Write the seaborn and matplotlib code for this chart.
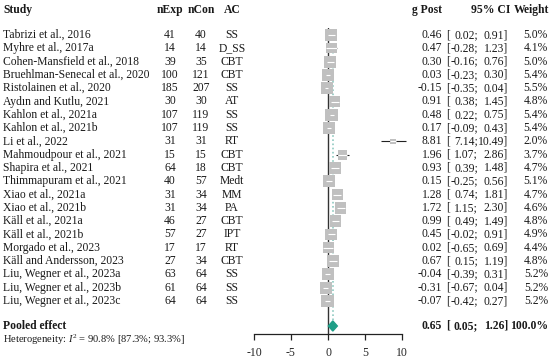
import numpy as np
import pandas as pd
import matplotlib.pyplot as plt
import matplotlib.transforms as mtransforms
import seaborn as sns

studies = ["Tabrizi et al., 2016", "Myhre et al., 2017a", "Cohen-Mansfield et al., 2018",
           "Bruehlman-Senecal et al., 2020", "Ristolainen et al., 2020", "Aydın and Kutlu, 2021",
           "Kahlon et al., 2021a", "Kahlon et al., 2021b", "Li et al., 2022",
           "Mahmoudpour et al., 2021", "Shapira et al., 2021", "Thimmapuram et al., 2021",
           "Xiao et al., 2021a", "Xiao et al., 2021b", "Käll et al., 2021a", "Käll et al., 2021b",
           "Morgado et al., 2023", "Käll and Andersson, 2023", "Liu, Wegner et al., 2023a",
           "Liu, Wegner et al., 2023b", "Liu, Wegner et al., 2023c"]
n_exp = [41, 14, 39, 100, 185, 30, 107, 107, 31, 15, 64, 40, 31, 31, 46, 57, 17, 27, 63, 61, 64]
n_con = [40, 14, 35, 121, 207, 30, 119, 119, 31, 15, 18, 57, 34, 34, 27, 27, 17, 34, 64, 64, 64]
ac = ["SS", "D_SS", "CBT", "CBT", "SS", "AT", "SS", "SS", "RT", "CBT", "CBT", "Medt",
      "MM", "PA", "CBT", "IPT", "RT", "CBT", "SS", "SS", "SS"]
g_post = [0.46, 0.47, 0.30, 0.03, -0.15, 0.91, 0.48, 0.17, 8.81, 1.96, 0.93, 0.15,
          1.28, 1.72, 0.99, 0.45, 0.02, 0.67, -0.04, -0.31, -0.07]
ci_low = [0.02, -0.28, -0.16, -0.23, -0.35, 0.38, 0.22, -0.09, 7.14, 1.07, 0.39, -0.25,
          0.74, 1.15, 0.49, -0.02, -0.65, 0.15, -0.39, -0.67, -0.42]
ci_high = [0.91, 1.23, 0.76, 0.30, 0.04, 1.45, 0.75, 0.43, 10.49, 2.86, 1.48, 0.56,
           1.81, 2.30, 1.49, 0.91, 0.69, 1.19, 0.31, 0.04, 0.27]
weight = [5.0, 4.1, 5.0, 5.4, 5.5, 4.8, 5.4, 5.4, 2.0, 3.7, 4.7, 5.1,
          4.7, 4.6, 4.8, 4.9, 4.4, 4.8, 5.2, 5.2, 5.2]

pooled_g, pooled_lo, pooled_hi = 0.65, 0.05, 1.26
x_ticks = [-10, -5, 0, 5, 10]

df = pd.DataFrame({"study": studies, "g": g_post, "lo": ci_low, "hi": ci_high, "w": weight})
df["row"] = np.arange(len(df))

sns.set_style("white")
plt.rcParams["font.family"] = ["Liberation Serif", "DejaVu Serif"]
plt.rcParams["mathtext.fontset"] = "custom"
plt.rcParams["mathtext.rm"] = "Liberation Serif"
plt.rcParams["mathtext.it"] = "Liberation Serif:italic"

W, H = 550, 361
step = 13.3      # px between rows
top_px = 35      # px of first study row
fig = plt.figure(figsize=(5.5, 3.61), dpi=100)
# forest panel: x -10..10 -> px 254..402
ax = fig.add_axes([254 / W, 1 - 334 / H, 148 / W, (334 - 28) / H])
ax.set_xlim(-10, 10)
ax.set_ylim((334 - top_px) / step, (28 - top_px) / step)

pooled_row = (326 - top_px) / step
head_row = (10 - top_px) / step
het_row = (340 - top_px) / step

# reference lines
ax.axvline(0, color="#333333", lw=1, zorder=0)
ax.vlines(pooled_g, -0.3, pooled_row, color="#8fcac1", lw=1.2, ls=(0, (1, 1.5)), zorder=0)

# confidence intervals and weighted squares
ax.hlines(df["row"], df["lo"], df["hi"], color="#222222", lw=0.8, zorder=1, clip_on=False)
size_min, size_max = 16, 82
sns.scatterplot(data=df, x="g", y="row", size="w", sizes=(size_min, size_max), size_norm=(2, 5.5),
                marker="s", color="#c0c0c0", edgecolor="none", legend=False, ax=ax, zorder=2)
area = size_min + (df["w"] - 2) / 3.5 * (size_max - size_min)
half = np.sqrt(area) * 100 / 72 / 2 / 7.4
ax.hlines(df["row"], np.maximum(df["lo"], df["g"] - half), np.minimum(df["hi"], df["g"] + half),
          color="white", lw=0.8, zorder=3)

# pooled diamond
ax.fill([pooled_lo, pooled_g, pooled_hi, pooled_g],
        [pooled_row, pooled_row - 0.38, pooled_row, pooled_row + 0.38],
        color="#1f9e87", zorder=3, clip_on=False)

for s in ["left", "top", "right"]:
    ax.spines[s].set_visible(False)
ax.spines["bottom"].set_color("#222222")
ax.spines["bottom"].set_linewidth(0.9)
ax.set_xticks(x_ticks)
ax.set_xticklabels([str(t) for t in x_ticks])
ax.set_yticks([])
ax.tick_params(axis="x", direction="out", length=4, width=0.9, color="#222222",
               labelsize=8.5, pad=5, bottom=True)
ax.set_xlabel("")
ax.set_ylabel("")

tr = mtransforms.blended_transform_factory(fig.transFigure, ax.transData)
fs = 8.4
tc = "#1a1a1a"


def put(px, row, s, ha="left", bold=False, size=fs):
    ax.text(px / W, row, s, transform=tr, ha=ha, va="center", fontsize=size, color=tc,
            fontweight="bold" if bold else "normal")


# headers
put(3, head_row, "Study", bold=True)
put(170, head_row, "nExp", ha="center", bold=True)
put(201, head_row, "nCon", ha="center", bold=True)
put(232, head_row, "AC", ha="center", bold=True)
put(442, head_row, "g Post", ha="right", bold=True)
put(510, head_row, "95% CI", ha="right", bold=True)
put(549, head_row, "Weight", ha="right", bold=True)

for i in range(len(df)):
    put(3, i, studies[i])
    put(170, i, str(n_exp[i]), ha="center")
    put(201, i, str(n_con[i]), ha="center")
    put(232, i, ac[i], ha="center")
    put(442, i, f"{g_post[i]:.2f}", ha="right")
    put(446, i, "[")
    put(478, i, f"{ci_low[i]:.2f};", ha="right")
    put(508, i, f"{ci_high[i]:.2f}]", ha="right")
    put(548, i, f"{weight[i]:.1f}%", ha="right")

put(3, pooled_row, "Pooled effect", bold=True)
put(442, pooled_row, f"{pooled_g:.2f}", ha="right", bold=True)
put(446, pooled_row, "[", bold=True)
put(478, pooled_row, f"{pooled_lo:.2f};", ha="right", bold=True)
put(508, pooled_row, f"{pooled_hi:.2f}]", ha="right", bold=True)
put(548, pooled_row, "100.0%", ha="right", bold=True)
put(3, het_row, r"Heterogeneity: $I^2$ = 90.8% [87.3%; 93.3%]", size=7.6)

fig.savefig("out.png", dpi=100)
